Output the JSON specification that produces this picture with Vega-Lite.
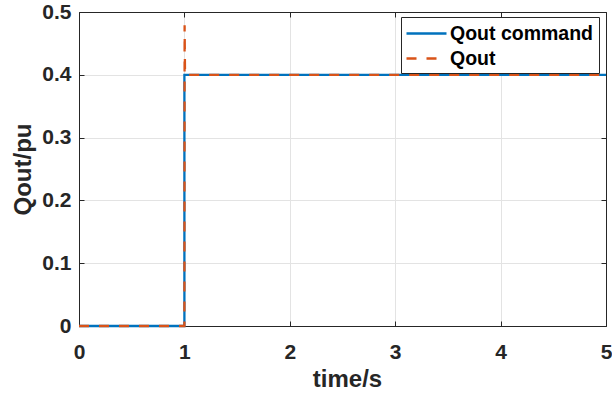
{
  "$schema": "https://vega.github.io/schema/vega-lite/v6.json",
  "width": 527,
  "height": 314,
  "autosize": {"type": "none"},
  "padding": {"left": 79, "top": 12, "right": 6, "bottom": 67},
  "background": "white",
  "config": {
    "font": "Liberation Sans",
    "view": {"stroke": null},
    "axis": {
      "labelFont": "Liberation Sans",
      "labelFontWeight": "bold",
      "labelFontSize": 21,
      "labelColor": "#262626",
      "labelFlush": false,
      "titleFont": "Liberation Sans",
      "titleFontWeight": "bold",
      "titleFontSize": 24,
      "titleColor": "#262626",
      "domainColor": "#262626",
      "domainWidth": 1,
      "tickColor": "#262626",
      "tickSize": -5,
      "gridColor": "#e3e3e3",
      "gridWidth": 1
    }
  },
  "datasets": {
    "command": [
      {"t": 0, "q": 0, "series": "Qout command"},
      {"t": 1, "q": 0, "series": "Qout command"},
      {"t": 1, "q": 0.4, "series": "Qout command"},
      {"t": 5, "q": 0.4, "series": "Qout command"}
    ],
    "response": [
      {"t": 0, "q": 0, "series": "Qout"},
      {"t": 1, "q": 0, "series": "Qout"},
      {"t": 1.002, "q": 0.479, "series": "Qout"},
      {"t": 1.006, "q": 0.4, "series": "Qout"},
      {"t": 5, "q": 0.4, "series": "Qout"}
    ]
  },
  "layer": [
    {
      "data": {"name": "command"},
      "mark": {"type": "line", "strokeWidth": 2.3, "interpolate": "linear"},
      "encoding": {
        "x": {
          "field": "t", "type": "quantitative",
          "scale": {"domain": [0, 5], "nice": false, "zero": false},
          "axis": {
            "title": "time/s", "values": [0, 1, 2, 3, 4, 5],
            "labelPadding": 20, "titleX": 268, "titleY": 60,
            "titleBaseline": "alphabetic", "titleAnchor": "middle"
          }
        },
        "y": {
          "field": "q", "type": "quantitative",
          "scale": {"domain": [0, 0.5], "nice": false},
          "axis": {
            "title": "Qout/pu", "values": [0, 0.1, 0.2, 0.3, 0.4, 0.5],
            "labelExpr": "datum.value == 0 ? '0' : format(datum.value, '.1f')",
            "labelPadding": 13, "titleX": -56, "titleY": 157,
            "titleBaseline": "middle", "titleAnchor": "middle", "titleAngle": -90
          }
        },
        "color": {
          "field": "series", "type": "nominal",
          "scale": {"domain": ["Qout command", "Qout"], "range": ["#0072BD", "#D95319"]},
          "legend": {
            "title": null,
            "orient": "none",
            "legendX": 322,
            "legendY": 5,
            "direction": "vertical",
            "fillColor": "white",
            "strokeColor": "#262626",
            "padding": 5,
            "symbolType": "M-2,0L2,0",
            "symbolSize": 400,
            "symbolOffset": 9,
            "symbolStrokeWidth": 2.3,
            "labelFont": "Liberation Sans",
            "labelFontWeight": "bold",
            "labelFontSize": 19.5,
            "labelColor": "#000000",
            "labelOffset": 12,
            "rowPadding": 4
          }
        },
        "strokeDash": {
          "field": "series", "type": "nominal",
          "scale": {"domain": ["Qout command", "Qout"], "range": [[1, 0], [10, 10]]},
          "legend": null
        }
      }
    },
    {
      "data": {"name": "response"},
      "mark": {"type": "line", "strokeWidth": 2.3, "interpolate": "linear"},
      "encoding": {
        "x": {
          "field": "t", "type": "quantitative",
          "axis": {"orient": "top", "labels": false, "title": null, "grid": false, "values": [0, 1, 2, 3, 4, 5]}
        },
        "y": {
          "field": "q", "type": "quantitative",
          "axis": {"orient": "right", "labels": false, "title": null, "grid": false, "values": [0, 0.1, 0.2, 0.3, 0.4, 0.5]}
        },
        "color": {"field": "series", "type": "nominal"},
        "strokeDash": {"field": "series", "type": "nominal"}
      }
    }
  ],
  "resolve": {"axis": {"x": "independent", "y": "independent"}}
}
